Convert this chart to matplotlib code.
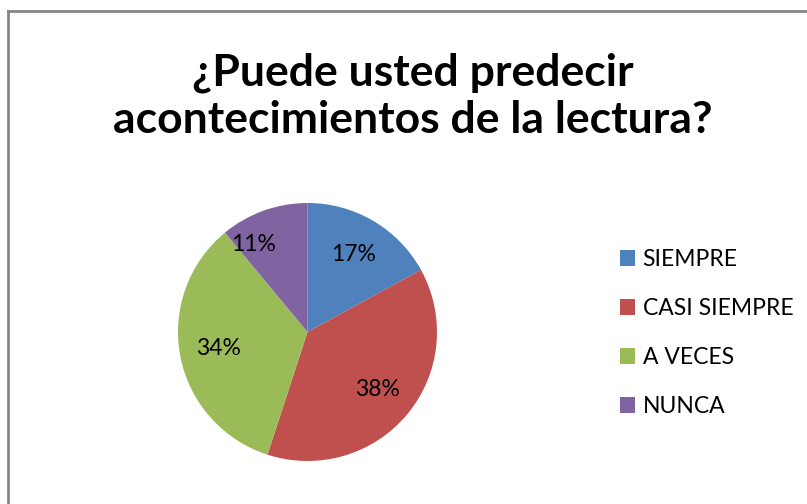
import matplotlib
matplotlib.use("Agg")
from matplotlib import pyplot as plt
from matplotlib.patches import Patch
from matplotlib.lines import Line2D

# data
labels = ["SIEMPRE", "CASI SIEMPRE", "A VECES", "NUNCA"]
values = [17, 38, 34, 11]
colors = ["#4F81BD", "#C0504D", "#9BBB59", "#8064A2"]
title = "¿Puede usted predecir\nacontecimientos de la lectura?"

plt.rcParams['font.family'] = ['Lato', 'DejaVu Sans']

W, H = 807, 504
fig = plt.figure(figsize=(W / 100, H / 100), dpi=100)

# outer chart border (only top and left visible in the crop)
fig.add_artist(Line2D([8 / W, 8 / W], [0, 1 - 10.5 / H], color="#868686", lw=2))
fig.add_artist(Line2D([8 / W, 1], [1 - 10.5 / H, 1 - 10.5 / H], color="#868686", lw=2))

fig.text(413 / W, 1 - 96 / H, title, ha="center", va="center",
         fontsize=32, fontweight="bold", linespacing=1.2)

ax = fig.add_axes([178 / W, (H - 461) / H, 259 / W, 258 / H])
wedges, texts = ax.pie(values, colors=colors, startangle=90, counterclock=False,
                       labels=[f"{v}%" for v in values], labeldistance=0.7,
                       textprops=dict(fontsize=16.5, ha="center", va="center"))
# Excel puts the small slice label a bit further out / left
texts[3].set_position((-0.42, 0.68))
ax.set_xlim(-1, 1)
ax.set_ylim(-1, 1)
ax.set_aspect("auto")

handles = [Patch(facecolor=c, edgecolor="none") for c in colors]
fig.legend(handles, labels, loc="center left", bbox_to_anchor=(599 / W, 1 - 333 / H),
           frameon=False, fontsize=16.5, handlelength=0.65, handleheight=0.65,
           handletextpad=0.35, labelspacing=1.22)

fig.savefig("out.png", dpi=100)
